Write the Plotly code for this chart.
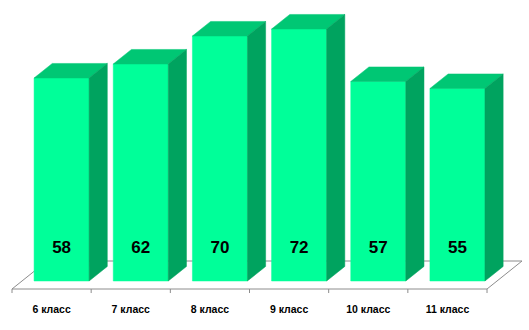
import plotly.graph_objects as go

categories = ["6 класс", "7 класс", "8 класс", "9 класс", "10 класс", "11 класс"]
values = [58, 62, 70, 72, 57, 55]

FRONT = "#00FF99"
TOP = "#00C774"
SIDE = "#00A35F"
FLOOR = "#8C8C8C"

# pseudo-3D projection parameters (in axis units)
AX = 0.442      # x shift per unit depth
AY = 8.0        # value shift per unit depth
Z0 = 0.286      # depth of bar front plane (floor front = 0)
ZB = Z0 + 0.52  # depth of bar back plane
BW = 0.695      # bar width in category units


def proj(x, v, z):
    return x + AX * z, v + AY * (z - Z0)


fig = go.Figure()

def poly(pts, color, line_color=None):
    xs = [p[0] for p in pts] + [pts[0][0]]
    ys = [p[1] for p in pts] + [pts[0][1]]
    fig.add_trace(go.Scatter(x=xs, y=ys, mode="lines", fill="toself",
                             fillcolor=color,
                             line=dict(color=line_color or color, width=0.5),
                             hoverinfo="skip", showlegend=False))

def line(pts, color=FLOOR, width=1):
    fig.add_trace(go.Scatter(x=[p[0] for p in pts], y=[p[1] for p in pts],
                             mode="lines", line=dict(color=color, width=width),
                             hoverinfo="skip", showlegend=False))

n = len(categories)
xl, xr = -0.5, n - 0.5
# floor outline
line([proj(xl, 0, 0), proj(xr, 0, 0), proj(xr, 0, 1), proj(xl, 0, 1), proj(xl, 0, 0)])
# tick marks
for k in range(n + 1):
    x = -0.5 + k
    fx, fy = proj(x, 0, 0)
    line([(fx, fy), (fx, fy - 1.15)])

# bars
for i, v in enumerate(values):
    x0 = i - BW / 2
    x1 = i + BW / 2
    # front
    poly([proj(x0, 0, Z0), proj(x1, 0, Z0), proj(x1, v, Z0), proj(x0, v, Z0)], FRONT)
    # top
    poly([proj(x0, v, Z0), proj(x1, v, Z0), proj(x1, v, ZB), proj(x0, v, ZB)], TOP)
    # side
    poly([proj(x1, 0, Z0), proj(x1, 0, ZB), proj(x1, v, ZB), proj(x1, v, Z0)], SIDE)

# value labels
lx = [proj(i, 0, Z0)[0] for i in range(n)]
fig.add_trace(go.Scatter(x=lx, y=[9.2] * n, mode="text",
                         text=[str(v) for v in values],
                         textfont=dict(family="Liberation Sans, Arial", size=17, color="#000000"),
                         texttemplate="<b>%{text}</b>",
                         hoverinfo="skip", showlegend=False))
# category labels
fig.add_trace(go.Scatter(x=list(range(n)), y=[-8.3] * n, mode="text",
                         text=categories,
                         textfont=dict(family="Liberation Sans, Arial", size=10.5, color="#000000"),
                         texttemplate="<b>%{text}</b>",
                         hoverinfo="skip", showlegend=False))

cat_px = 79.17
xmin = -0.5 - 12 / cat_px
xmax = xmin + 529 / cat_px
ymin = -(330 - 281) / 3.5
ymax = 281 / 3.5

fig.update_layout(
    width=529, height=330,
    margin=dict(l=0, r=0, t=0, b=0),
    paper_bgcolor="white", plot_bgcolor="white",
    xaxis=dict(range=[xmin, xmax], visible=False, fixedrange=True),
    yaxis=dict(range=[ymin, ymax], visible=False, fixedrange=True),
)

fig.write_html("out.html")
